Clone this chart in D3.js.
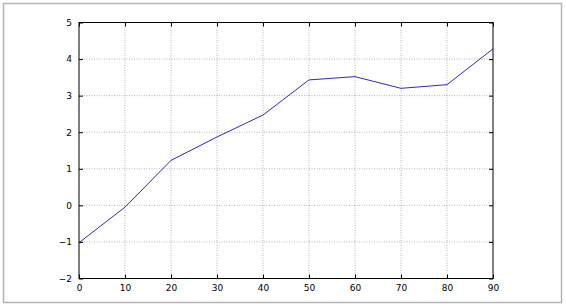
<!DOCTYPE html>
<html>
<head>
<meta charset="utf-8">
<script src="https://cdn.jsdelivr.net/npm/d3@7"></script>
<style>
  body { margin: 0; background: #fff; }
  text { font-family: "DejaVu Sans", sans-serif; font-size: 9px; fill: #000; }
</style>
</head>
<body>
<div id="chart"></div>
<script>
let xValues = [0, 10, 20, 30, 40, 50, 60, 70, 80, 90];
let yValues = [-1.02, -0.05, 1.23, 1.87, 2.47, 3.43, 3.52, 3.20, 3.30, 4.28];
let xTicks = [0, 10, 20, 30, 40, 50, 60, 70, 80, 90];
let yTicks = [-2, -1, 0, 1, 2, 3, 4, 5];

let width = 566, height = 306;
let margin = {top: 22.5, right: 73, bottom: 27.5, left: 79};

let svg = d3.select("#chart").append("svg")
  .attr("width", width)
  .attr("height", height);

// figure frame
svg.append("rect")
  .attr("x", 3.5).attr("y", 3.5)
  .attr("width", 558).attr("height", 299)
  .attr("fill", "#fff")
  .attr("stroke", "#b4b4b4")
  .attr("stroke-width", 1.5);

let x = d3.scaleLinear().domain([0, 90]).range([margin.left, width - margin.right]);
let y = d3.scaleLinear().domain([-2, 5]).range([height - margin.bottom, margin.top]);

let fmt = d => d < 0 ? "\u2212" + Math.abs(d) : String(d);

// grid
svg.append("g").selectAll("line")
  .data(xTicks.slice(1, -1))
  .enter().append("line")
  .attr("x1", d => x(d)).attr("x2", d => x(d))
  .attr("y1", y(-2)).attr("y2", y(5))
  .attr("stroke", "#888").attr("stroke-width", 0.6)
  .attr("stroke-dasharray", "1,1.5");

svg.append("g").selectAll("line")
  .data(yTicks.slice(1, -1))
  .enter().append("line")
  .attr("x1", x(0)).attr("x2", x(90))
  .attr("y1", d => y(d)).attr("y2", d => y(d))
  .attr("stroke", "#888").attr("stroke-width", 0.6)
  .attr("stroke-dasharray", "1,1.5");

// data line
let line = d3.line()
  .x((d, i) => x(xValues[i]))
  .y(d => y(d));

svg.append("path")
  .datum(yValues)
  .attr("fill", "none")
  .attr("stroke", "#2a2ac4")
  .attr("stroke-width", 1)
  .attr("d", line);

// axes with inward ticks on all sides
svg.append("g")
  .attr("transform", `translate(0,${y(-2)})`)
  .call(d3.axisBottom(x).tickValues(xTicks).tickFormat(fmt).tickSizeInner(-4).tickSizeOuter(0).tickPadding(6))
  .call(g => g.select(".domain").remove());

svg.append("g")
  .attr("transform", `translate(0,${y(5)})`)
  .call(d3.axisTop(x).tickValues(xTicks).tickFormat("").tickSizeInner(-4).tickSizeOuter(0))
  .call(g => g.select(".domain").remove());

svg.append("g")
  .attr("transform", `translate(${x(0)},0)`)
  .call(d3.axisLeft(y).tickValues(yTicks).tickFormat(fmt).tickSizeInner(-4).tickSizeOuter(0).tickPadding(7))
  .call(g => g.select(".domain").remove());

svg.append("g")
  .attr("transform", `translate(${x(90)},0)`)
  .call(d3.axisRight(y).tickValues(yTicks).tickFormat("").tickSizeInner(-4).tickSizeOuter(0))
  .call(g => g.select(".domain").remove());

svg.selectAll(".tick text").style("font-family", "DejaVu Sans").style("font-size", "9px");

// plot frame
svg.append("rect")
  .attr("x", x(0)).attr("y", y(5))
  .attr("width", x(90) - x(0)).attr("height", y(-2) - y(5))
  .attr("fill", "none")
  .attr("stroke", "#000")
  .attr("stroke-width", 1);
</script>
</body>
</html>
